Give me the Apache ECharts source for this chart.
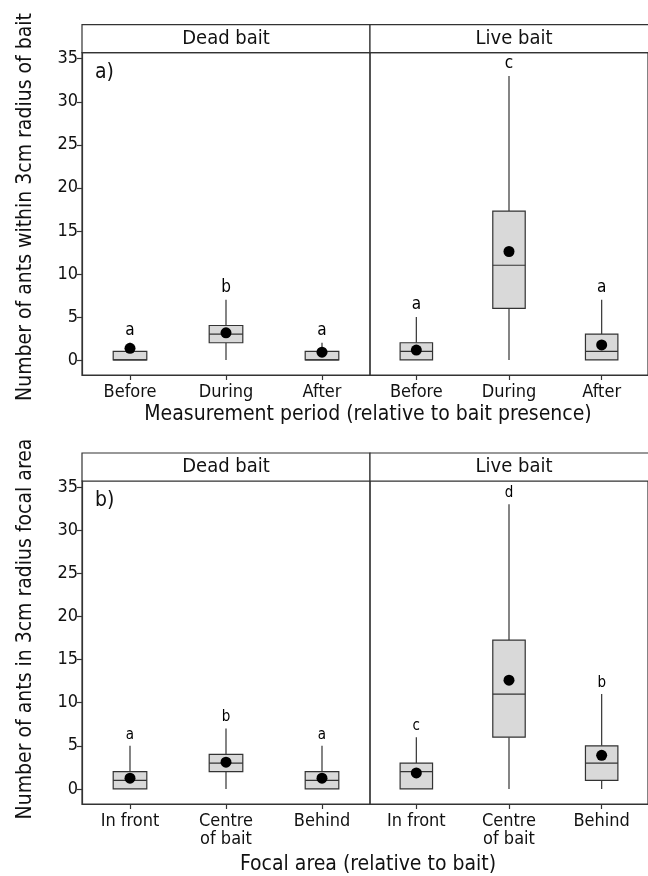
<!DOCTYPE html>
<html>
<head>
<meta charset="utf-8">
<script src="https://cdn.jsdelivr.net/npm/echarts@6.0.0/dist/echarts.min.js"></script>
<style>
  html, body { margin: 0; padding: 0; background: #fff; }
  #chart { width: 648px; height: 876px; }
</style>
</head>
<body>
<div id="chart"></div>
<script>
// categories
const periods = ['Before', 'During', 'After']
const areas = ['In front', 'Centre\nof bait', 'Behind']
const yTicks = [0, 5, 10, 15, 20, 25, 30, 35]

// box stats: [min, q1, median, q3, max]
const deadPeriodBox = [[0, 0, 0, 1, 2], [0, 2, 3, 4, 7], [0, 0, 0, 1, 2]]
const livePeriodBox = [[0, 0, 1, 2, 5], [0, 6, 11, 17.3, 33], [0, 0, 1, 3, 7]]
const deadAreaBox = [[0, 0, 1, 2, 5], [0, 2, 3, 4, 7], [0, 0, 1, 2, 5]]
const liveAreaBox = [[0, 0, 2, 3, 6], [0, 6, 11, 17.25, 33], [0, 1, 3, 5, 11]]

// means
const deadPeriodMean = [1.35, 3.15, 0.9]
const livePeriodMean = [1.15, 12.6, 1.75]
const deadAreaMean = [1.25, 3.1, 1.25]
const liveAreaMean = [1.85, 12.6, 3.9]

// significance letters
const deadPeriodLetters = ['a', 'b', 'a']
const livePeriodLetters = ['a', 'c', 'a']
const deadAreaLetters = ['a', 'b', 'a']
const liveAreaLetters = ['c', 'd', 'b']

const FONT = "'DejaVu Sans Condensed', 'DejaVu Sans', sans-serif"
const INK = '#111'
const LINE = '#333'

const chart = echarts.init(document.getElementById('chart'), null, { renderer: 'canvas' })

// panel geometry
const panels = [
  { left: 82, top: 52.7, width: 288, height: 322.3, cats: periods, box: deadPeriodBox, mean: deadPeriodMean, letters: deadPeriodLetters, showY: true, letterSize: 17 },
  { left: 370, top: 52.7, width: 287, height: 322.3, cats: periods, box: livePeriodBox, mean: livePeriodMean, letters: livePeriodLetters, showY: false, letterSize: 17 },
  { left: 82, top: 481, width: 288, height: 323, cats: areas, box: deadAreaBox, mean: deadAreaMean, letters: deadAreaLetters, showY: true, letterSize: 15 },
  { left: 370, top: 481, width: 287, height: 323, cats: areas, box: liveAreaBox, mean: liveAreaMean, letters: liveAreaLetters, showY: false, letterSize: 15 }
]

const renderBox = (params, api) => {
  const x = api.value(0)
  const lo = api.coord([x, api.value(1)])
  const q1 = api.coord([x, api.value(2)])
  const med = api.coord([x, api.value(3)])
  const q3 = api.coord([x, api.value(4)])
  const hi = api.coord([x, api.value(5)])
  const half = api.size([1, 0])[0] * 0.175
  const stroke = { stroke: LINE, lineWidth: 1.2 }
  return {
    type: 'group',
    children: [
      { type: 'line', shape: { x1: lo[0], y1: lo[1], x2: q1[0], y2: q1[1] }, style: stroke },
      { type: 'line', shape: { x1: q3[0], y1: q3[1], x2: hi[0], y2: hi[1] }, style: stroke },
      { type: 'rect', shape: { x: q3[0] - half, y: q3[1], width: half * 2, height: q1[1] - q3[1] }, style: { fill: '#d9d9d9', stroke: LINE, lineWidth: 1.2 } },
      { type: 'line', shape: { x1: med[0] - half, y1: med[1], x2: med[0] + half, y2: med[1] }, style: stroke }
    ]
  }
}

const grid = []
const xAxis = []
const yAxis = []
const series = []
const graphic = []

panels.forEach((p, i) => {
  grid.push({ left: p.left, top: p.top, width: p.width, height: p.height, show: true, borderColor: LINE, borderWidth: 1.2, backgroundColor: 'transparent' })
  xAxis.push({
    type: 'category', gridIndex: i, data: p.cats, boundaryGap: true,
    axisLine: { show: true, onZero: false, lineStyle: { color: LINE, width: 1.2 } },
    axisTick: { show: true, alignWithLabel: true, length: 5, lineStyle: { color: LINE, width: 1.2 } },
    axisLabel: { color: INK, fontFamily: FONT, fontSize: 18, lineHeight: 18, margin: 8 },
    splitLine: { show: false }
  })
  yAxis.push({
    type: 'value', gridIndex: i, min: -1.75, max: 35.7,
    axisLine: { show: p.showY, onZero: false, lineStyle: { color: LINE, width: 1.2 } },
    axisTick: { show: p.showY, length: 5, customValues: yTicks, lineStyle: { color: LINE, width: 1.2 } },
    axisLabel: { show: p.showY, customValues: yTicks, color: INK, fontFamily: FONT, fontSize: 18, margin: 4 },
    splitLine: { show: false }
  })
  series.push({
    type: 'custom', xAxisIndex: i, yAxisIndex: i, renderItem: renderBox,
    data: p.box.map((b, k) => [k, ...b]), silent: true
  })
  series.push({
    type: 'scatter', xAxisIndex: i, yAxisIndex: i, symbol: 'circle', symbolSize: 11,
    itemStyle: { color: '#000', opacity: 1 }, data: p.mean.map((m, k) => [k, m]), silent: true
  })
  series.push({
    type: 'scatter', xAxisIndex: i, yAxisIndex: i, symbol: 'circle', symbolSize: 1,
    itemStyle: { color: '#fff', opacity: 0 },
    label: {
      show: true, position: 'top', distance: 3, color: '#000', opacity: 1, fontFamily: FONT, fontSize: p.letterSize,
      formatter: (d) => p.letters[d.dataIndex]
    },
    data: p.box.map((b, k) => [k, b[4]]), silent: true
  })
  // strip
  graphic.push({
    type: 'rect', shape: { x: p.left, y: p.top - 28, width: p.width, height: 28 },
    style: { fill: '#fff', stroke: LINE, lineWidth: 1.2 }, silent: true
  })
  graphic.push({
    type: 'text', x: p.left + 144, y: p.top - 14,
    style: { text: i % 2 === 0 ? 'Dead bait' : 'Live bait', fill: INK, font: `20px ${FONT}`, textAlign: 'center', textVerticalAlign: 'middle' }
  })
})

// panel tags and axis titles
graphic.push(
  { type: 'text', x: 95, y: 73, style: { text: 'a)', fill: INK, font: `21px ${FONT}`, textAlign: 'left', textVerticalAlign: 'middle' } },
  { type: 'text', x: 95, y: 501, style: { text: 'b)', fill: INK, font: `21px ${FONT}`, textAlign: 'left', textVerticalAlign: 'middle' } },
  { type: 'text', x: 26, y: 207, rotation: Math.PI / 2, style: { text: 'Number of ants within 3cm radius of bait', fill: INK, font: `21px ${FONT}`, textAlign: 'center', textVerticalAlign: 'middle' } },
  { type: 'text', x: 26, y: 629, rotation: Math.PI / 2, style: { text: 'Number of ants in 3cm radius focal area', fill: INK, font: `21px ${FONT}`, textAlign: 'center', textVerticalAlign: 'middle' } },
  { type: 'text', x: 368, y: 415, style: { text: 'Measurement period (relative to bait presence)', fill: INK, font: `21px ${FONT}`, textAlign: 'center', textVerticalAlign: 'middle' } },
  { type: 'text', x: 368, y: 865, style: { text: 'Focal area (relative to bait)', fill: INK, font: `21px ${FONT}`, textAlign: 'center', textVerticalAlign: 'middle' } }
)

chart.setOption({
  backgroundColor: '#fff',
  animation: false,
  grid, xAxis, yAxis, series, graphic
})
</script>
</body>
</html>
